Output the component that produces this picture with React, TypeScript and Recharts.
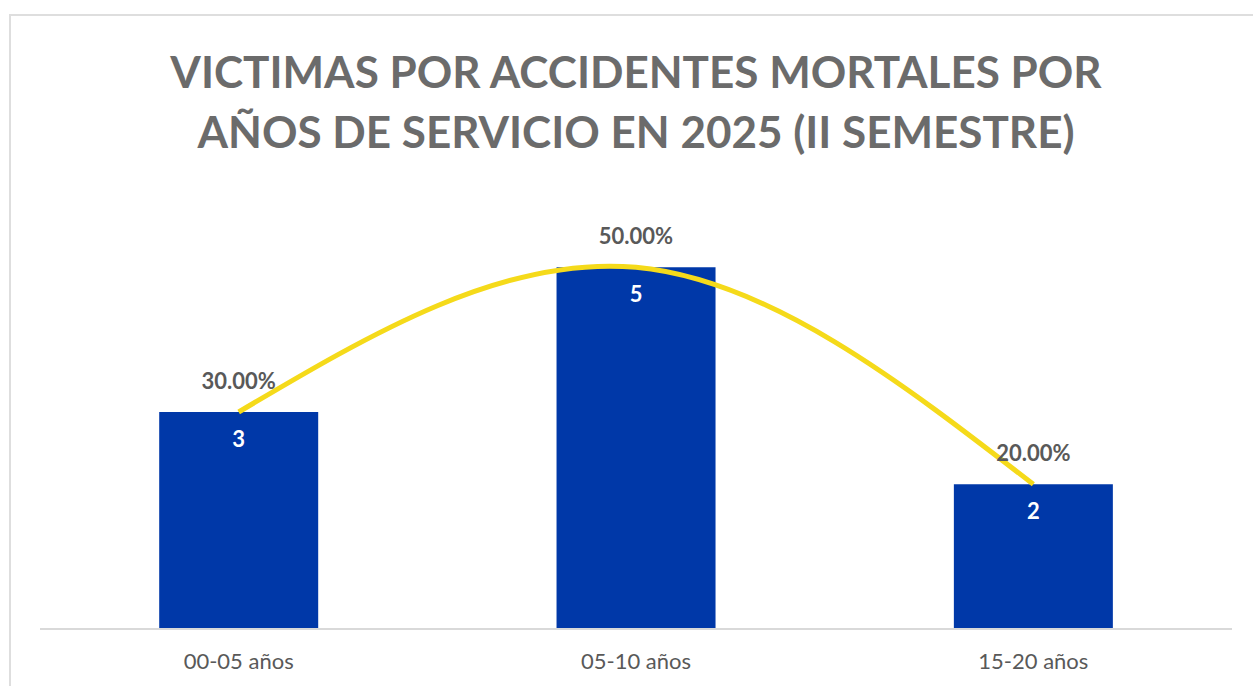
import { ComposedChart, Bar, Line, XAxis, YAxis, LabelList } from 'recharts'

const categories = ['00-05 años', '05-10 años', '15-20 años']
const victims = [3, 5, 2]
const shares = [0.3, 0.5, 0.2]

const titleLines = ['VICTIMAS POR ACCIDENTES MORTALES POR', 'AÑOS DE SERVICIO EN 2025 (II SEMESTRE)']

const data = categories.map((c, i) => ({ name: c, victims: victims[i], share: shares[i] }))

const FONT = 'Lato, "Open Sans", sans-serif'

export default function App() {
  return (
    <div style={{ position: 'absolute', left: 0, top: 0, width: 1253, height: 686, overflow: 'hidden', background: '#fff', fontFamily: FONT }}>
      {/* chart frame */}
      <div style={{ position: 'absolute', left: 9, top: 14, width: 1300, height: 720, border: '2px solid #dedede' }} />
      <div style={{ position: 'absolute', left: 0, top: 41, width: 1272, textAlign: 'center', color: '#6b6b6b', fontSize: 44, fontWeight: 700, lineHeight: '60px' }}>
        {titleLines.map(t => <div key={t}>{t}</div>)}
      </div>
      <div style={{ position: 'absolute', left: 0, top: 0 }}>
        <ComposedChart width={1253} height={686} data={data} margin={{ top: 195, right: 21, left: 40, bottom: 0 }} barCategoryGap="30%">
          <XAxis
            dataKey="name"
            height={57}
            tickLine={false}
            axisLine={{ stroke: '#d9d9d9', strokeWidth: 2 }}
            tick={{ fill: '#595959', fontSize: 22, fontFamily: FONT }}
            tickMargin={18}
          />
          <YAxis yAxisId="count" hide domain={[0, 6]} />
          <YAxis yAxisId="pct" hide orientation="right" domain={[0, 0.6]} />
          <Bar yAxisId="count" dataKey="victims" fill="#0038a8" isAnimationActive={false}>
            <LabelList dataKey="victims" position="insideTop" offset={19} fill="#ffffff" fontSize={22} fontWeight={700} fontFamily={FONT} />
          </Bar>
          <Line
            yAxisId="pct"
            type="natural"
            dataKey="share"
            stroke="#f5da1a"
            strokeWidth={5}
            dot={false}
            activeDot={false}
            isAnimationActive={false}
          >
            <LabelList
              dataKey="share"
              position="top"
              offset={23}
              fill="#595959"
              fontSize={22}
              fontWeight={700}
              fontFamily={FONT}
              formatter={(v: number) => `${(v * 100).toFixed(2)}%`}
            />
          </Line>
        </ComposedChart>
      </div>
    </div>
  )
}
